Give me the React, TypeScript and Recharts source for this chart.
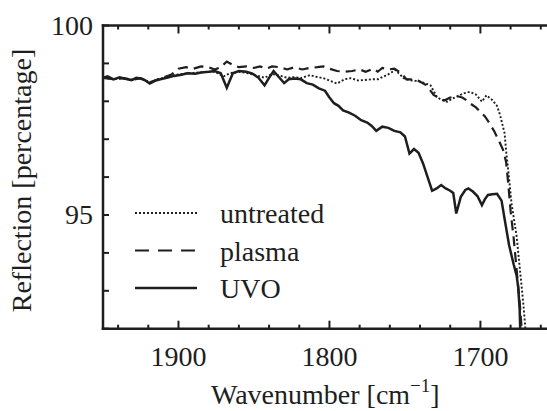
import { LineChart, Line, XAxis, YAxis, Legend } from 'recharts';

// wavenumber [cm^-1] / reflection [%]
const UVO_X = [1950, 1947, 1943, 1939, 1936, 1931, 1928, 1925, 1922, 1919, 1915, 1912, 1907, 1903, 1898, 1894, 1889, 1885, 1880, 1876, 1872, 1868, 1864, 1860, 1855, 1851, 1847, 1843, 1840, 1837, 1834, 1830, 1827, 1823, 1819, 1815, 1811, 1807, 1803, 1800, 1797, 1794, 1791, 1787, 1783, 1779, 1775, 1772, 1769, 1765, 1761, 1757, 1753, 1750, 1747, 1744, 1741, 1738, 1735, 1732, 1729, 1726, 1723, 1720, 1718, 1716, 1713, 1710, 1708, 1705, 1702, 1699, 1697, 1695, 1692, 1689, 1686, 1684, 1681, 1678, 1676, 1675, 1674, 1673.5];
const UVO_Y = [98.62, 98.66, 98.58, 98.63, 98.6, 98.56, 98.62, 98.6, 98.55, 98.47, 98.55, 98.58, 98.63, 98.67, 98.7, 98.74, 98.73, 98.76, 98.78, 98.8, 98.74, 98.36, 98.74, 98.8, 98.78, 98.73, 98.62, 98.42, 98.62, 98.8, 98.66, 98.48, 98.58, 98.6, 98.58, 98.48, 98.44, 98.34, 98.28, 98.1, 97.95, 97.88, 97.76, 97.7, 97.62, 97.5, 97.44, 97.35, 97.22, 97.33, 97.3, 97.22, 97.18, 97.07, 96.62, 96.74, 96.64, 96.36, 96.0, 95.64, 95.7, 95.79, 95.7, 95.64, 95.58, 95.04, 95.48, 95.66, 95.7, 95.62, 95.5, 95.26, 95.42, 95.53, 95.55, 95.56, 95.38, 94.9, 94.2, 93.7, 93.4, 93.1, 92.5, 91.8];

const PLASMA_X = [1950, 1943, 1936, 1931, 1925, 1919, 1912, 1905, 1900, 1895, 1890, 1885, 1880, 1876, 1872, 1868, 1864, 1860, 1855, 1850, 1846, 1842, 1838, 1833, 1828, 1823, 1818, 1813, 1808, 1804, 1800, 1795, 1790, 1785, 1780, 1776, 1771, 1768, 1765, 1761, 1757, 1753, 1749, 1745, 1741, 1736, 1731, 1727, 1724, 1720, 1716, 1712, 1709, 1707, 1703, 1700, 1697, 1694, 1691, 1688, 1685, 1683, 1681.5, 1680, 1678, 1676, 1674, 1672.5];
const PLASMA_Y = [98.62, 98.58, 98.61, 98.56, 98.61, 98.5, 98.6, 98.7, 98.86, 98.9, 98.86, 98.92, 98.9, 98.84, 98.9, 99.05, 98.96, 98.9, 98.92, 98.88, 98.92, 98.86, 98.92, 98.9, 98.84, 98.9, 98.84, 98.88, 98.9, 98.92, 98.86, 98.8, 98.78, 98.8, 98.84, 98.78, 98.86, 98.78, 98.88, 98.84, 98.86, 98.76, 98.58, 98.58, 98.54, 98.43, 98.17, 98.08, 98.02, 98.1, 98.14, 98.1, 98.02, 97.95, 97.84, 97.72, 97.6, 97.42, 97.22, 96.98, 96.72, 96.4, 95.8, 95.1, 94.4, 93.55, 92.7, 91.9];

const UNTREATED_X = [1950, 1943, 1936, 1931, 1925, 1919, 1912, 1905, 1898, 1890, 1883, 1876, 1870, 1866, 1860, 1854, 1848, 1843, 1838, 1833, 1828, 1823, 1819, 1813, 1808, 1804, 1800, 1795, 1790, 1786, 1781, 1777, 1772, 1768, 1765, 1762, 1759, 1756.6, 1753, 1751, 1747, 1743, 1740, 1736, 1733, 1729, 1726, 1722, 1719, 1716, 1711, 1707, 1703, 1699, 1696, 1692, 1689, 1687, 1684, 1683, 1681.6, 1679.4, 1676, 1673.8, 1671.6, 1670];
const UNTREATED_Y = [98.62, 98.59, 98.61, 98.57, 98.61, 98.5, 98.6, 98.68, 98.72, 98.75, 98.77, 98.78, 98.66, 98.74, 98.78, 98.74, 98.68, 98.62, 98.72, 98.68, 98.62, 98.64, 98.61, 98.69, 98.64, 98.61, 98.55, 98.47, 98.58, 98.61, 98.55, 98.56, 98.58, 98.58, 98.64, 98.69, 98.76, 98.83, 98.7, 98.61, 98.56, 98.54, 98.52, 98.47, 98.42, 98.12, 98.04, 97.99, 98.06, 98.12, 98.21, 98.25, 98.18, 97.99, 98.16, 98.03, 97.88, 97.64, 97.16, 96.7, 96.19, 95.31, 94.43, 93.55, 92.67, 91.9];

const X_TICKS = [1940, 1920, 1900, 1880, 1860, 1840, 1820, 1800, 1780, 1760, 1740, 1720, 1700, 1680, 1660, 1640];
const X_LABELS = [1900, 1800, 1700];
const Y_TICKS = [92, 93, 94, 95, 96, 97, 98, 99, 100];
const Y_LABELS = [95, 100];

const SERIES = [
  { name: 'untreated', xs: UNTREATED_X, ys: UNTREATED_Y, dash: '2 2', width: 1.9 },
  { name: 'plasma', xs: PLASMA_X, ys: PLASMA_Y, dash: '10 6', width: 2.2 },
  { name: 'UVO', xs: UVO_X, ys: UVO_Y, dash: undefined, width: 2.5 },
];

const INK = '#1e1e1e';
const FONT = 'Liberation Serif';

const toPoints = (xs: number[], ys: number[]) => xs.map((x, i) => ({ x, y: ys[i] }));

const BottomTick = ({ x, y, payload }: any) => {
  const major = X_LABELS.includes(payload.value);
  return (
    <g>
      <line x1={x} x2={x} y1={y} y2={y - (major ? 8 : 4)} stroke={INK} strokeWidth={2} />
      {major && (
        <text x={x} y={y + 37} textAnchor="middle" fontSize={28} fontFamily={FONT} fill={INK}>
          {payload.value}
        </text>
      )}
    </g>
  );
};

const TopTick = ({ x, y, payload }: any) => {
  const major = X_LABELS.includes(payload.value);
  return <line x1={x} x2={x} y1={y} y2={y + (major ? 8 : 4)} stroke={INK} strokeWidth={2} />;
};

const LeftTick = ({ x, y, payload }: any) => (
  <g>
    <line x1={x} x2={x + 6} y1={y} y2={y} stroke={INK} strokeWidth={2} />
    {Y_LABELS.includes(payload.value) && (
      <text x={x - 10} y={y + 9} textAnchor="end" fontSize={28} fontFamily={FONT} fill={INK}>
        {payload.value}
      </text>
    )}
  </g>
);

const renderLegend = () => (
  <svg width={220} height={120}>
    {SERIES.map((s, i) => {
      const cy = 18 + i * 37.5;
      return (
        <g key={s.name}>
          <line x1={5} x2={67} y1={cy} y2={cy} stroke={INK} strokeWidth={s.width} strokeDasharray={s.name === 'plasma' ? '14 9' : s.dash} />
          <text x={90} y={cy + 10} fontSize={28} fontFamily={FONT} fill={INK}>
            {s.name}
          </text>
        </g>
      );
    })}
  </svg>
);

const axisLine = { stroke: INK, strokeWidth: 2.5, strokeLinecap: 'square' as const };

export default function App() {
  return (
    <div style={{ position: 'fixed', left: 0, top: 0, width: 547, height: 411, overflow: 'hidden', background: '#fff' }}>
      <LineChart width={600} height={411} margin={{ top: 20.5, right: 28, bottom: 32.3, left: 43 }}>
        <XAxis
          xAxisId="bottom"
          type="number"
          dataKey="x"
          domain={[1640, 1950]}
          reversed
          allowDataOverflow
          ticks={X_TICKS}
          interval={0}
          tickSize={0}
          tickMargin={0}
          tickLine={false}
          tick={<BottomTick />}
          axisLine={axisLine}
          height={50}
        />
        <XAxis
          xAxisId="top"
          orientation="top"
          type="number"
          dataKey="x"
          domain={[1640, 1950]}
          reversed
          allowDataOverflow
          ticks={X_TICKS}
          interval={0}
          tickSize={0}
          tickMargin={0}
          tickLine={false}
          tick={<TopTick />}
          axisLine={axisLine}
          height={5}
        />
        <YAxis
          yAxisId="left"
          type="number"
          dataKey="y"
          domain={[92, 100]}
          allowDataOverflow
          ticks={Y_TICKS}
          interval={0}
          tickSize={0}
          tickMargin={0}
          tickLine={false}
          tick={<LeftTick />}
          axisLine={axisLine}
          width={60}
        />
        <YAxis yAxisId="right" orientation="right" type="number" domain={[92, 100]} tick={false} tickLine={false} axisLine={axisLine} width={1} />
        {SERIES.map((s) => (
          <Line
            key={s.name}
            xAxisId="bottom"
            yAxisId="left"
            data={toPoints(s.xs, s.ys)}
            dataKey="y"
            name={s.name}
            type="linear"
            stroke={INK}
            strokeWidth={s.width}
            strokeDasharray={s.dash}
            dot={false}
            activeDot={false}
            isAnimationActive={false}
          />
        ))}
        <Legend
          layout="vertical"
          align="center"
          verticalAlign="middle"
          content={renderLegend}
          wrapperStyle={{ position: 'absolute', left: 130, top: 195, width: 220, height: 120 }}
        />
        <text transform="translate(31,180.5) rotate(-90)" textAnchor="middle" fontSize={28} fontFamily={FONT} fill={INK}>
          Reflection [percentage]
        </text>
        <text x={211} y={404} fontSize={28} fontFamily={FONT} fill={INK}>
          Wavenumber [cm
          <tspan dy={-12} fontSize={19}>−1</tspan>
          <tspan dy={12}>]</tspan>
        </text>
      </LineChart>
    </div>
  );
}
